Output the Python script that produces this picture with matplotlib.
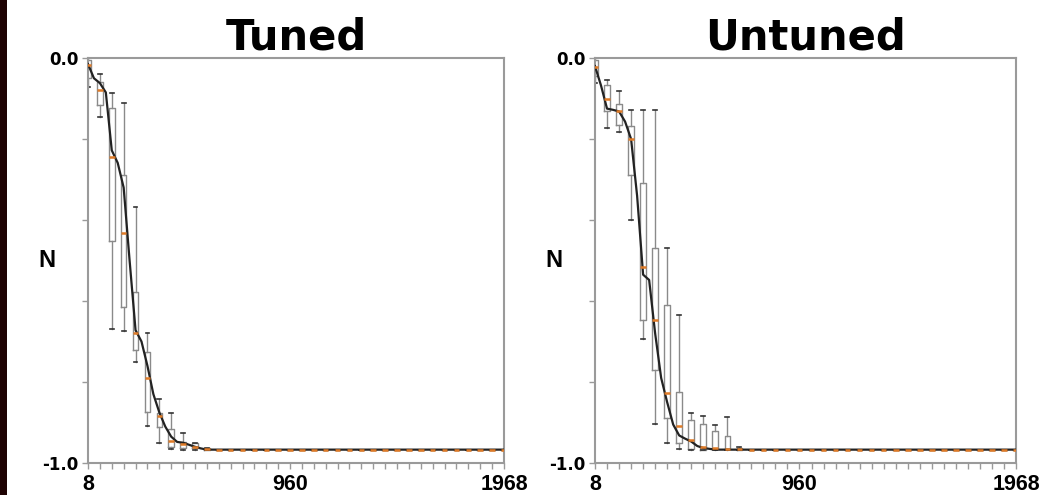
import matplotlib
matplotlib.use("Agg")
import matplotlib.pyplot as plt
from matplotlib.patches import Rectangle

# ---------------- data ----------------
positions = list(range(8, 1969, 56))          # 36 box positions
xtick_labels = {8: "8", 960: "960", 1968: "1968"}
ytick_values = [0.0, -0.2, -0.4, -0.6, -0.8, -1.0]
ytick_labels = ["0.0", "", "", "", "", "-1.0"]
titles = ["Tuned", "Untuned"]

P = -0.967  # plateau level

tuned_med = [-0.017, -0.079, -0.244, -0.433, -0.679, -0.790, -0.885, -0.945, -0.953, -0.960, -0.966,
             P, P, P, P, P, P, P, P, P, P, P, P, P, P, P, P, P, P, P, P, P, P, P, P, P]
tuned_q1 = [-0.050, -0.116, -0.451, -0.614, -0.721, -0.873, -0.911, -0.960, -0.963, -0.964, -0.967,
            P, P, P, P, P, P, P, P, P, P, P, P, P, P, P, P, P, P, P, P, P, P, P, P, P]
tuned_q3 = [-0.005, -0.060, -0.124, -0.289, -0.577, -0.725, -0.877, -0.916, -0.947, -0.951, -0.964,
            P, P, P, P, P, P, P, P, P, P, P, P, P, P, P, P, P, P, P, P, P, P, P, P, P]
tuned_lo = [-0.071, -0.145, -0.669, -0.673, -0.750, -0.909, -0.951, -0.966, -0.967, -0.967, -0.967,
            P, P, P, P, P, P, P, P, P, P, P, P, P, P, P, P, P, P, P, P, P, P, P, P, P]
tuned_hi = [0.000, -0.040, -0.087, -0.110, -0.367, -0.679, -0.842, -0.877, -0.926, -0.950, -0.962,
            P, P, P, P, P, P, P, P, P, P, P, P, P, P, P, P, P, P, P, P, P, P, P, P, P]

untuned_med = [-0.022, -0.102, -0.130, -0.201, -0.515, -0.646, -0.826, -0.909, -0.943, -0.960, -0.963, -0.965, -0.966,
               P, P, P, P, P, P, P, P, P, P, P, P, P, P, P, P, P, P, P, P, P, P, P]
untuned_q1 = [-0.045, -0.130, -0.165, -0.289, -0.648, -0.770, -0.889, -0.951, -0.966, -0.967, -0.966, -0.966, -0.967,
              P, P, P, P, P, P, P, P, P, P, P, P, P, P, P, P, P, P, P, P, P, P, P]
untuned_q3 = [-0.006, -0.067, -0.114, -0.168, -0.308, -0.470, -0.610, -0.824, -0.893, -0.904, -0.921, -0.934, -0.962,
              P, P, P, P, P, P, P, P, P, P, P, P, P, P, P, P, P, P, P, P, P, P, P]
untuned_lo = [-0.062, -0.174, -0.182, -0.400, -0.694, -0.903, -0.950, -0.965, -0.967, -0.967, -0.967, -0.967, -0.967,
              P, P, P, P, P, P, P, P, P, P, P, P, P, P, P, P, P, P, P, P, P, P, P]
untuned_hi = [0.000, -0.054, -0.081, -0.128, -0.128, -0.128, -0.470, -0.634, -0.877, -0.885, -0.907, -0.886, -0.960,
              P, P, P, P, P, P, P, P, P, P, P, P, P, P, P, P, P, P, P, P, P, P, P]

# mean curve (sampled at half-box steps, then flat to the end)
mean_x = [8, 36, 64, 92, 120, 148, 176, 204, 232, 260, 288, 316, 344, 372, 400, 428, 456, 484, 512, 540, 568, 1968]
tuned_mean = [-0.015, -0.050, -0.062, -0.085, -0.228, -0.259, -0.320, -0.500, -0.672, -0.700, -0.760,
              -0.830, -0.875, -0.910, -0.935, -0.948, -0.950, -0.955, -0.960, -0.964, -0.967, -0.967]
untuned_mean = [-0.020, -0.068, -0.125, -0.128, -0.132, -0.157, -0.200, -0.340, -0.535, -0.548, -0.680,
                -0.790, -0.850, -0.905, -0.932, -0.940, -0.947, -0.958, -0.963, -0.965, -0.967, -0.967]

panels = [
    (tuned_med, tuned_q1, tuned_q3, tuned_lo, tuned_hi, tuned_mean),
    (untuned_med, untuned_q1, untuned_q3, untuned_lo, untuned_hi, untuned_mean),
]

# ---------------- figure ----------------
W, H = 1043, 495
fig = plt.figure(figsize=(W / 100, H / 100), dpi=100)
fig.patches.append(Rectangle((0, 0), 7 / W, 1, transform=fig.transFigure,
                             facecolor="#1e0303", edgecolor="none", zorder=10))

axes_px = [(88, 416), (595, 421)]   # (left, width) in pixels
top_px, bot_px = 58, 463

GRAY = "#9a9a9a"
ORANGE = "#e07b27"

for (left, width), title, (med, q1, q3, lo, hi, mean) in zip(axes_px, titles, panels):
    ax = fig.add_axes([left / W, (H - bot_px) / H, width / W, (bot_px - top_px) / H])
    stats = []
    for m, a, b, l, h in zip(med, q1, q3, lo, hi):
        stats.append(dict(med=m, q1=a, q3=b, whislo=l, whishi=h, fliers=[]))
    ax.bxp(stats, positions=positions, widths=26, capwidths=18, showfliers=False,
           patch_artist=False, manage_ticks=False,
           boxprops=dict(color="#8a8a8a", linewidth=1.0),
           whiskerprops=dict(color="#8a8a8a", linewidth=1.0),
           capprops=dict(color="#333333", linewidth=1.2),
           medianprops=dict(color=ORANGE, linewidth=1.8, zorder=6))
    ax.plot(mean_x, mean, color="#222222", linewidth=1.6, zorder=4)

    ax.set_xlim(8, 1968)
    ax.set_ylim(-1.0, 0.0)
    ax.set_xticks(positions)
    ax.set_xticklabels([xtick_labels.get(p, "") for p in positions],
                       family="Liberation Sans", fontweight="bold", fontsize=15.5)
    ax.set_yticks(ytick_values)
    ax.set_yticklabels(ytick_labels, family="DejaVu Sans",
                       fontweight="bold", fontsize=12)
    ax.tick_params(axis="both", direction="out", length=4, width=1, color=GRAY)
    ax.tick_params(axis="x", pad=4)
    ax.tick_params(axis="y", pad=3)
    for s in ax.spines.values():
        s.set_color(GRAY)
        s.set_linewidth(1.5)
    ax.set_title(title, fontsize=30, fontweight="bold", pad=4)
    ax.text(-0.098, 0.5, "N", transform=ax.transAxes, ha="center", va="center",
            family="Liberation Sans", fontweight="bold", fontsize=17)

fig.savefig("out.png", dpi=100)
